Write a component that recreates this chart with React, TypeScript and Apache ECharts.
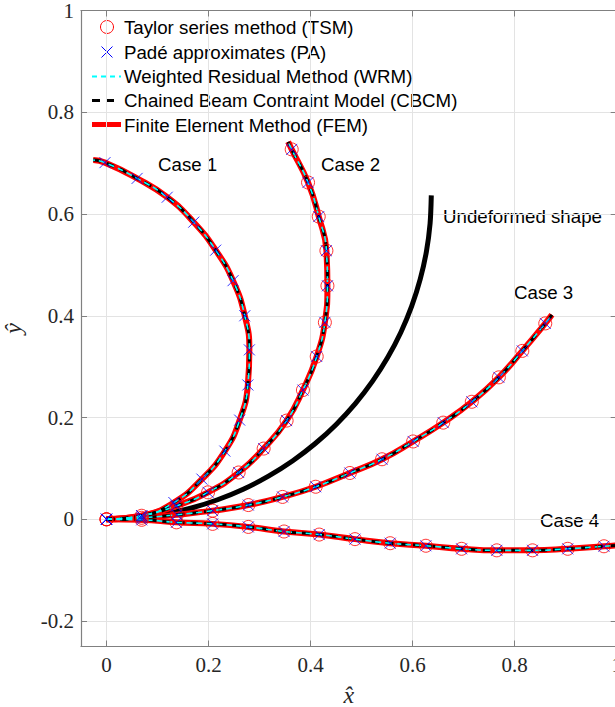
import React, { useEffect, useRef } from 'react';
import * as echarts from 'echarts';

const xTicks = [0, 0.2, 0.4, 0.6, 0.8, 1];
const yTicks = [-0.2, 0, 0.2, 0.4, 0.6, 0.8, 1];

// Marker samples (15 per case, from the clamped end to the tip)
const case1 = [[0, 0], [0.069, 0.007], [0.132, 0.033], [0.187, 0.079], [0.232, 0.134], [0.261, 0.195], [0.277, 0.264], [0.28, 0.333], [0.271, 0.4], [0.248, 0.469], [0.214, 0.529], [0.171, 0.584], [0.119, 0.633], [0.06, 0.67], [-0.003, 0.701]];
const case1Tip = [-0.026, 0.706];
const case2 = [[0, 0], [0.069, 0.007], [0.136, 0.026], [0.199, 0.053], [0.259, 0.092], [0.308, 0.139], [0.353, 0.194], [0.385, 0.254], [0.412, 0.32], [0.428, 0.387], [0.433, 0.459], [0.431, 0.528], [0.416, 0.595], [0.395, 0.662], [0.363, 0.727]];
const case2Tip = [0.356, 0.742];
const case3 = [[0, 0], [0.069, 0.003], [0.138, 0.009], [0.208, 0.017], [0.278, 0.028], [0.345, 0.044], [0.41, 0.064], [0.477, 0.091], [0.54, 0.118], [0.601, 0.153], [0.66, 0.19], [0.716, 0.231], [0.769, 0.279], [0.815, 0.331], [0.86, 0.385]];
const case3Tip = [0.873, 0.402];
const case4 = [[0, 0], [0.069, -0.001], [0.137, -0.006], [0.208, -0.009], [0.278, -0.015], [0.348, -0.024], [0.417, -0.03], [0.487, -0.039], [0.556, -0.047], [0.626, -0.052], [0.696, -0.058], [0.765, -0.061], [0.835, -0.061], [0.904, -0.058], [0.975, -0.053]];
const case4Tip = [1.0, -0.051];
const undeformed = [[0, 0], [0.0555, 0.0024], [0.1106, 0.0097], [0.1648, 0.0217], [0.2177, 0.0384], [0.2691, 0.0596], [0.3183, 0.0853], [0.3652, 0.1151], [0.4092, 0.1489], [0.4502, 0.1865], [0.4877, 0.2274], [0.5215, 0.2715], [0.5513, 0.3183], [0.577, 0.3676], [0.5982, 0.4189], [0.6149, 0.4719], [0.627, 0.5261], [0.6342, 0.5811], [0.6366, 0.6366]];

const legendLabels = [
  'Taylor series method (TSM)',
  'Padé approximates (PA)',
  'Weighted Residual Method (WRM)',
  'Chained Beam Contraint Model (CBCM)',
  'Finite Element Method (FEM)',
];
const caseNames = ['Case 1', 'Case 2', 'Case 3', 'Case 4'];
const undeformedLabel = 'Undeformed shape';

const SANS = 'Liberation Sans, Arial, Helvetica, sans-serif';
const SERIF = 'Liberation Serif, Times New Roman, serif';

export default function App() {
  const ref = useRef<HTMLDivElement>(null);
  useEffect(() => {
    const chart = echarts.init(ref.current!, null, { renderer: 'svg' });
    const cases = [
      { pts: case1, tip: case1Tip, tsm: false },
      { pts: case2, tip: case2Tip, tsm: true },
      { pts: case3, tip: case3Tip, tsm: true },
      { pts: case4, tip: case4Tip, tsm: true },
    ];
    const series: any[] = [];
    series.push({
      type: 'line', data: undeformed, smooth: 0.3, symbol: 'none',
      lineStyle: { color: '#000', width: 5 }, z: 2,
    });
    cases.forEach((c) => {
      const lineData = [...c.pts, c.tip];
      series.push({ type: 'line', data: lineData, smooth: 0.5, symbol: 'none', lineStyle: { color: '#ff0000', width: 6 }, z: 3 });
      series.push({ type: 'line', data: lineData, smooth: 0.5, symbol: 'none', lineStyle: { color: '#000', width: 3, type: [8, 6] }, z: 4 });
      series.push({ type: 'line', data: lineData, smooth: 0.5, symbol: 'none', lineStyle: { color: '#00ffff', width: 1.6, type: [6, 4] }, z: 5 });
    });
    cases.forEach((c) => {
      if (c.tsm) {
        series.push({
          type: 'scatter', data: c.pts, symbol: 'circle', symbolSize: 13,
          itemStyle: { color: 'none', borderColor: '#ff0000', borderWidth: 1 }, z: 6,
        });
      }
    });
    cases.forEach((c) => {
      series.push({
        type: 'scatter', data: c.pts, symbol: 'path://M0,0L10,10M10,0L0,10', symbolSize: 11,
        itemStyle: { color: 'none', borderColor: '#0000ff', borderWidth: 1 }, z: 7,
      });
    });

    const textStyle = { fill: '#000', fontFamily: SANS, fontSize: 18.7 };
    const graphic: any[] = [
      // legend
      { type: 'circle', shape: { cx: 107, cy: 27, r: 6.5 }, style: { fill: 'none', stroke: '#ff0000', lineWidth: 1 } },
      { type: 'line', shape: { x1: 101.5, y1: 46.5, x2: 112.5, y2: 57.5 }, style: { stroke: '#0000ff', lineWidth: 1 } },
      { type: 'line', shape: { x1: 101.5, y1: 57.5, x2: 112.5, y2: 46.5 }, style: { stroke: '#0000ff', lineWidth: 1 } },
      { type: 'line', shape: { x1: 92, y1: 76.5, x2: 121, y2: 76.5 }, style: { stroke: '#00ffff', lineWidth: 2, lineDash: [5, 4] } },
      { type: 'line', shape: { x1: 92, y1: 100.5, x2: 119, y2: 100.5 }, style: { stroke: '#000', lineWidth: 3, lineDash: [8, 6] } },
      { type: 'line', shape: { x1: 92, y1: 124.5, x2: 121, y2: 124.5 }, style: { stroke: '#ff0000', lineWidth: 5 } },
      ...legendLabels.map((t, i) => ({
        type: 'text', x: 124, y: [27.5, 52, 76.5, 100.5, 125][i],
        style: { ...textStyle, text: t, verticalAlign: 'middle', align: 'left' },
      })),
      // annotations
      { type: 'text', x: 158, y: 164, style: { ...textStyle, text: caseNames[0], verticalAlign: 'middle' } },
      { type: 'text', x: 321, y: 164, style: { ...textStyle, text: caseNames[1], verticalAlign: 'middle' } },
      { type: 'text', x: 514, y: 292, style: { ...textStyle, text: caseNames[2], verticalAlign: 'middle' } },
      { type: 'text', x: 540, y: 520, style: { ...textStyle, text: caseNames[3], verticalAlign: 'middle' } },
      { type: 'text', x: 443, y: 216, style: { ...textStyle, text: undeformedLabel, verticalAlign: 'middle' } },
    ];

    const axisLine = { show: true, onZero: false, lineStyle: { color: '#808080', width: 1.2 } };
    const tick = { show: true, inside: true, length: 6, lineStyle: { color: '#808080' } };
    const rich = { t: { color: '#262626', fontFamily: SERIF, fontSize: 21 } };
    const fmt = (ticks: number[]) => (v: number) => {
      const hit = ticks.find((t) => Math.abs(t - v) < 1e-6);
      return hit === undefined ? '' : `{t|${hit}}`;
    };
    const option: any = {
      animation: false,
      textStyle: { fontFamily: SERIF, fontSize: 21, color: '#262626' },
      grid: { left: 81, top: 10.5, width: 535.7, height: 636, containLabel: false, outerBoundsMode: 'none' },
      xAxis: [
        {
          type: 'value', min: -0.05, max: 1, splitNumber: 5,
          axisLine, axisTick: tick,
          axisLabel: { color: '#262626', fontFamily: SERIF, fontSize: 21, rich, margin: 8, showMinLabel: false, showMaxLabel: true, formatter: fmt(xTicks), hideOverlap: false },
          splitLine: { show: true, lineStyle: { color: '#e3e3e3', width: 1 } },
          name: 'x\u0302', nameLocation: 'middle', nameGap: 36,
          nameTextStyle: { fontFamily: SERIF, fontStyle: 'italic', fontSize: 24, color: '#262626' },
        },
        {
          type: 'value', min: -0.05, max: 1, splitNumber: 5, position: 'top',
          axisLine, axisTick: tick,
          axisLabel: { show: false }, splitLine: { show: false },
        },
      ],
      yAxis: [
        {
          type: 'value', min: -0.25, max: 1, splitNumber: 6,
          axisLine, axisTick: tick,
          axisLabel: { color: '#262626', fontFamily: SERIF, fontSize: 21, rich, margin: 7, showMinLabel: false, showMaxLabel: true, formatter: fmt(yTicks), hideOverlap: false },
          splitLine: { show: true, lineStyle: { color: '#e3e3e3', width: 1 } },
          name: '\u0177', nameLocation: 'middle', nameGap: 56, nameRotate: 90,
          nameTextStyle: { fontFamily: SERIF, fontStyle: 'italic', fontSize: 24, color: '#262626' },
        },
        {
          type: 'value', min: -0.25, max: 1, splitNumber: 6, position: 'right',
          axisLine, axisTick: tick,
          axisLabel: { show: false }, splitLine: { show: false },
        },
      ],
      series,
      graphic,
    };
    chart.setOption(option);
    return () => chart.dispose();
  }, []);
  return <div ref={ref} style={{ position: 'absolute', left: 0, top: 0, width: 615, height: 707 }} />;
}
